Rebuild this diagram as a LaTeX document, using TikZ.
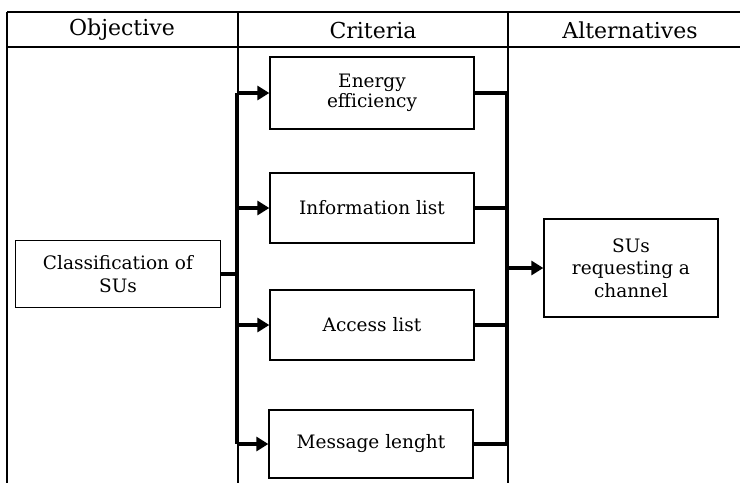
\documentclass[tikz,border=0pt]{standalone}
\usepackage{fontspec}
\setmainfont{DejaVu Serif}
\usetikzlibrary{arrows.meta}
\begin{document}
\begin{tikzpicture}[x=1pt,y=-1pt,
  box/.style={draw, line width=1.3pt, minimum width=204pt, minimum height=70pt, align=center, font=\fontsize{18.5}{19.5}\selectfont, inner sep=0pt},
  widebox/.style={box, font=\fontsize{18.5}{22.5}\selectfont},
  head/.style={font=\fontsize{22}{24}\selectfont, inner sep=0pt},
  bus/.style={line width=3.3pt},
  grid/.style={line width=1.3pt},
  arr/.style={line width=3.3pt, -{Triangle[length=12pt,width=14pt]}}]
\useasboundingbox (0,0) rectangle (740,483);
% table
\draw[grid, line width=1.8pt] (7,12) -- (740,12);
\draw[grid, line width=1.8pt] (7,47) -- (740,47);
\draw[grid] (7,12) -- (7,483);
\draw[grid] (238,12) -- (238,483);
\draw[grid] (508,12) -- (508,483);
\node[head] (hobj) at (122,30) {Objective};
\node[head] (hcrit) at (373,30) {Criteria};
\node[head] (halt) at (630,30) {Alternatives};
% nodes
\node[box, minimum height=72pt] (energy) at (372,93) {Energy\\efficiency};
\node[box] (info) at (372,208) {Information list};
\node[box] (access) at (372,325) {Access list};
\node[box, minimum height=68pt] (msg) at (371,444) {Message lenght};
\node[widebox, minimum width=205pt, minimum height=67pt] (class) at (118,274) {Classification of\\SUs};
\node[widebox, minimum width=174pt, minimum height=98pt] (sus) at (631,268) {SUs\\requesting a\\channel};
\coordinate (lb) at (236.5,0);
\coordinate (rb) at (507,0);
% left bus
\draw[bus] (energy.west -| lb) -- (msg.west -| lb);
\draw[bus] (class.east) -- (class.east -| lb);
\foreach \n in {energy,info,access,msg} \draw[arr] (\n.west -| lb) -- (\n.west);
% right bus
\draw[bus] (energy.east -| rb) -- (msg.east -| rb);
\foreach \n in {energy,info,access,msg} \draw[bus] (\n.east) -- (\n.east -| rb);
\draw[arr] (sus.west -| rb) -- (sus.west);
\end{tikzpicture}
\end{document}
